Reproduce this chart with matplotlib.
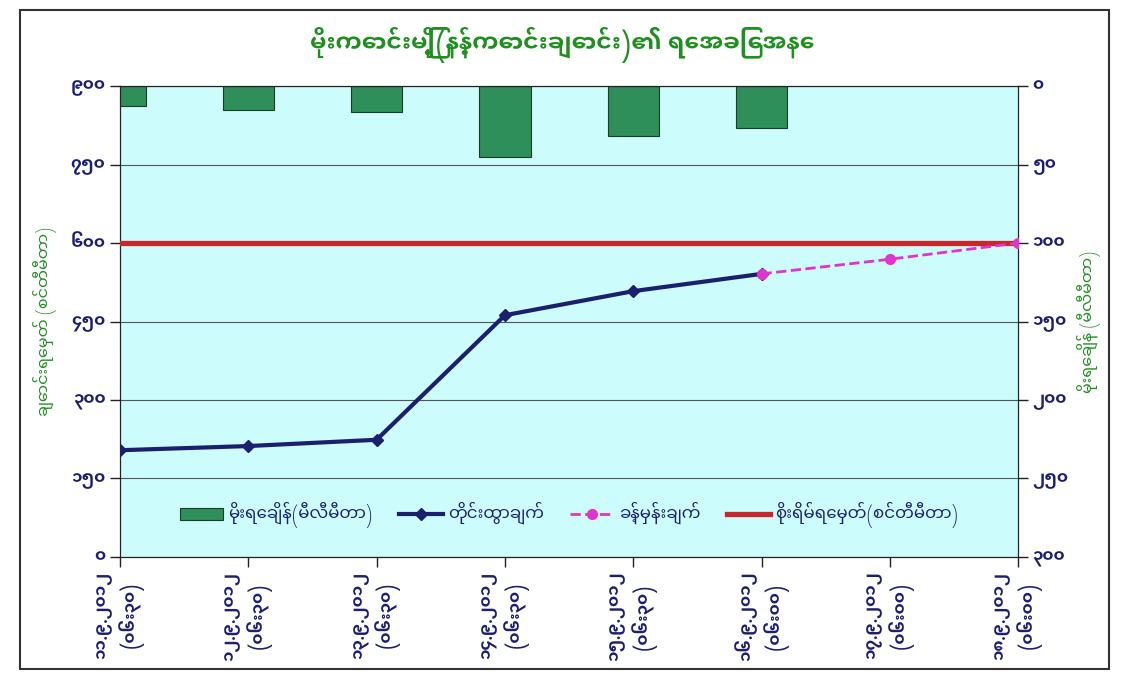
import matplotlib
matplotlib.use("Agg")
from matplotlib import pyplot as plt
from matplotlib.patches import Rectangle
import numpy as np

plt.rcParams['font.family'] = ['Noto Sans Myanmar UI', 'Padauk', 'DejaVu Sans']

# data
dates = ["၁၁.၉.၂၀၁၂\n(၀၆း၃၀)", "၁၂.၉.၂၀၁၂\n(၀၆း၃၀)", "၁၃.၉.၂၀၁၂\n(၀၆း၃၀)",
         "၁၄.၉.၂၀၁၂\n(၀၆း၃၀)", "၁၅.၉.၂၀၁၂\n(၀၆း၃၀)", "၁၆.၉.၂၀၁၂\n(၀၆း၀၀)",
         "၁၇.၉.၂၀၁၂\n(၀၆း၀၀)", "၁၈.၉.၂၀၁၂\n(၀၆း၀၀)"]
rain = [13, 15, 16.5, 45, 32, 27]          # mm, right axis (inverted)
observed = [204, 212, 224, 462, 508, 541]  # cm, left axis
forecast_idx = [5, 6, 7]
forecast = [541, 569, 600]
danger_level = 600

left_ticks = [0, 150, 300, 450, 600, 750, 900]
left_labels = ["၀", "၁၅၀", "၃၀၀", "၄၅၀", "၆၀၀", "၇၅၀", "၉၀၀"]
right_ticks = [0, 50, 100, 150, 200, 250, 300]
right_labels = ["၀", "၅၀", "၁၀၀", "၁၅၀", "၂၀၀", "၂၅၀", "၃၀၀"]

title = "မိုးကောင်းမြို့(နန့်ကောင်းချောင်း)၏ ရေအခြေအနေ"
ylabel_left = "ချောင်းရေမှတ် (စင်တီမီတာ)"
ylabel_right = "မိုးရေချိန် (မီလီမီတာ)"
legend_labels = ["မိုးရေချိန်(မီလီမီတာ)", "တိုင်းထွာချက်", "ခန့်မှန်းချက်",
                 "စိုးရိမ်ရေမှတ်(စင်တီမီတာ)"]

navy = "#1c1f6e"
green_txt = "#1f8f1f"

fig = plt.figure(figsize=(11.25, 6.79), dpi=100)
fig.patch.set_facecolor("white")
fig.add_artist(Rectangle((0.018, 0.015), 0.968, 0.97, transform=fig.transFigure,
                         fill=False, edgecolor="#333333", linewidth=1.5))

ax = fig.add_axes([0.1067, 0.1797, 0.7983, 0.6936])
ax2 = ax.twinx()

x = np.arange(len(dates))

# bars on the inverted right axis
b = ax2.bar(x[:len(rain)], rain, width=0.4, color="#2f8f5a", edgecolor="#1a3a2a",
            linewidth=0.8, zorder=2)
ax2.set_ylim(300, 0)
ax2.set_yticks(right_ticks)
ax2.set_yticklabels(right_labels)

ax.yaxis.grid(True, color="#555555", linewidth=0.8)
ax.set_axisbelow(True)
ln, = ax.plot(x[:len(observed)], observed, color=navy, linewidth=3,
              marker="D", markersize=6, zorder=4)
fc, = ax.plot(forecast_idx, forecast, color="#e033d0", linewidth=2, linestyle="--",
              marker="o", markersize=7, zorder=5)
dl = ax.axhline(danger_level, color="#c8262a", linewidth=3.8, zorder=3)
ax.set_zorder(ax2.get_zorder() + 1)
ax.patch.set_visible(False)
ax2.patch.set_visible(True)
ax2.patch.set_facecolor("#ccfcfc")
ax2.set_zorder(0)

ax.set_xlim(0, 7)
ax.set_ylim(0, 900)
ax.set_yticks(left_ticks)
ax.set_yticklabels(left_labels)
ax.set_xticks(x)
ax.set_xticklabels(dates, rotation=90, linespacing=1.3)

for a in (ax, ax2):
    a.tick_params(colors="#222222", labelcolor=navy, labelsize=12, length=7, width=1)
    for s in a.spines.values():
        s.set_color("#222222")
for t in ax.get_yticklabels() + ax2.get_yticklabels() + ax.get_xticklabels():
    t.set_fontweight("bold")

ax.set_ylabel(ylabel_left, color=green_txt, fontsize=11.5, labelpad=10)
ax2.set_ylabel(ylabel_right, color=green_txt, fontsize=11.5, labelpad=6)
fig.suptitle(title, color=green_txt, fontsize=17, fontweight="bold", y=0.96)

leg = ax.legend([b, ln, fc, dl], legend_labels, loc="lower center",
                bbox_to_anchor=(0.5, 0.03), ncol=4, frameon=False,
                fontsize=12, handlelength=2.6, handletextpad=0.3, columnspacing=1.6)
for t in leg.get_texts():
    t.set_color(navy)

plt.savefig("out.png", dpi=100)
